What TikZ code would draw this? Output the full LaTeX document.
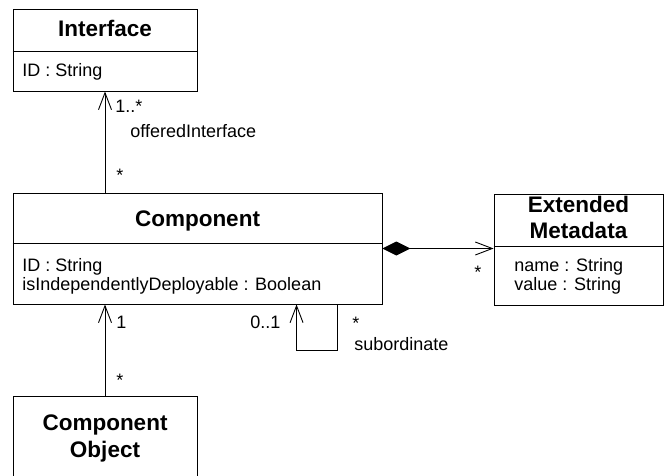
\documentclass[tikz,border=0pt]{standalone}
\usepackage{fontspec}
\setmainfont{Liberation Sans}
\usetikzlibrary{arrows.meta,calc}
\begin{document}
\begin{tikzpicture}[x=1pt,y=-1pt, line width=0.9pt,
  box/.style={draw, rectangle, inner sep=0pt},
  ttl/.style={font=\fontsize{22.5}{27}\selectfont\bfseries, anchor=base, inner sep=0pt},
  txt/.style={font=\fontsize{18}{19}\selectfont, anchor=base west, inner sep=0pt},
  assoc/.style={-{Straight Barb[length=17pt,width=13pt]}},
  compo/.style={{Diamond[length=28pt,width=14pt]}-{Straight Barb[length=17pt,width=13pt]}}]
\clip (0,0) rectangle (666,476);
\fill[white] (0,0) rectangle (666,476);
% boxes
\node[box, minimum width=184pt, minimum height=82pt] (iface) at (105,50) {};
\node[box, minimum width=369pt, minimum height=111pt] (comp) at (197.5,248.5) {};
\node[box, minimum width=169pt, minimum height=111pt] (meta) at (578.5,249.5) {};
\node[box, minimum width=184pt, minimum height=104pt] (cobj) at (105,448) {};
% dividers
\draw (iface.west |- 0,51) -- (iface.east |- 0,51);
\draw (comp.west |- 0,243) -- (comp.east |- 0,243);
\draw (meta.west |- 0,246) -- (meta.east |- 0,246);
% titles
\node[ttl] (ifacet) at (105,37) {Interface};
\node[ttl] (compt) at (197.5,226) {Component};
\node[ttl] (metat1) at (578.5,212) {Extended};
\node[ttl] (metat2) at (578.5,238) {Metadata};
\node[ttl] (cobjt1) at (105,430) {Component};
\node[ttl] (cobjt2) at (105,457) {Object};
% attributes
\node[txt] (ifacea) at (22,77) {ID : String};
\node[txt] (compa1) at (22,271) {ID : String};
\node[txt] (compa2) at (22,290) {isIndependentlyDeployable : Boolean};
\node[txt] (metaa1) at (514,271) {name : String};
\node[txt] (metaa2) at (514,290) {value : String};
% connectors
\draw[assoc] (comp.north -| iface.south) -- (iface.south);
\draw[assoc] (cobj.north) -- (cobj.north |- comp.south);
\draw[compo] (comp.east) -- (comp.east -| meta.west);
\draw[assoc] ([xshift=325pt]comp.south west) -- ++(0,46) -| ([xshift=284pt]comp.south west);
% labels
\node[txt] (l1) at (115,113) {1..*};
\node[txt] (l2) at (130,137) {offeredInterface};
\node[txt] (l3) at (116,181) {*};
\node[txt] (l4) at (116,328) {1};
\node[txt] (l5) at (250,328) {0..1};
\node[txt] (l6) at (352,329) {*};
\node[txt] (l7) at (354,350) {subordinate};
\node[txt] (l8) at (116,386) {*};
\node[txt] (l9) at (474,278) {*};
\end{tikzpicture}
\end{document}
